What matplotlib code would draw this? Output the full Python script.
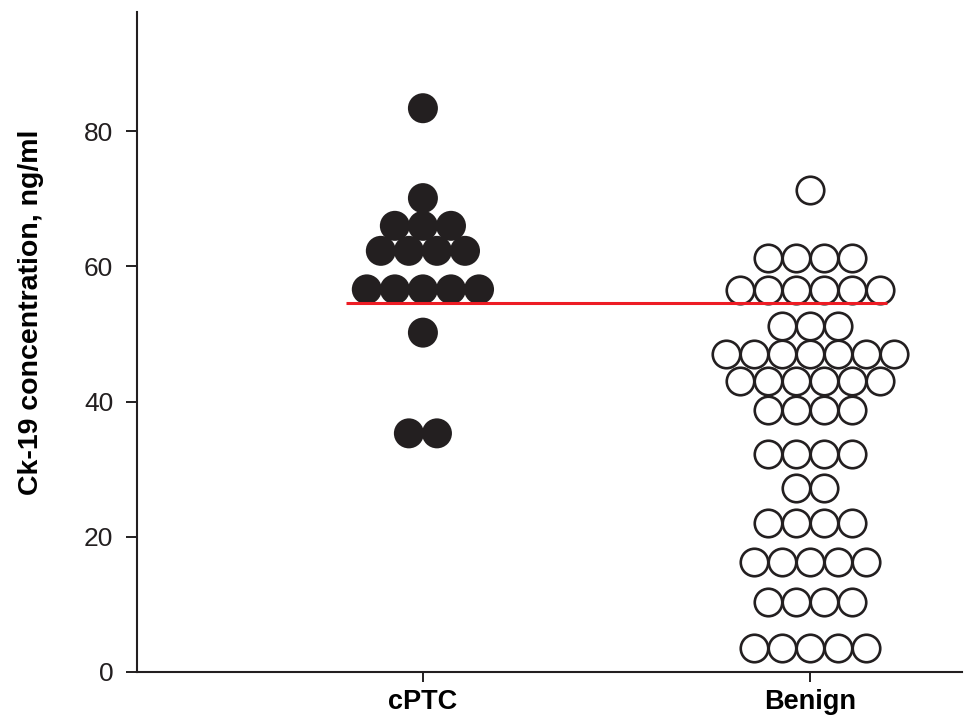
import numpy as np
import matplotlib
matplotlib.use("Agg")
import matplotlib.pyplot as plt

plt.rcParams['font.family'] = ['Liberation Sans', 'DejaVu Sans']

# values (ng/ml), one entry per dot
categories = ['cPTC', 'Benign']
cptc = [83.4, 70.1,
        66.0, 66.0, 66.0,
        62.3, 62.3, 62.3, 62.3,
        56.6, 56.6, 56.6, 56.6, 56.6,
        50.2,
        35.3, 35.3]
benign = [71.3,
          61.3, 61.3, 61.3, 61.3,
          56.5, 56.5, 56.5, 56.5, 56.5, 56.5,
          51.2, 51.2, 51.2,
          47.0, 47.0, 47.0, 47.0, 47.0, 47.0, 47.0,
          43.0, 43.0, 43.0, 43.0, 43.0, 43.0,
          38.7, 38.7, 38.7, 38.7,
          32.3, 32.3, 32.3, 32.3,
          27.2, 27.2,
          22.1, 22.1, 22.1, 22.1,
          16.3, 16.3, 16.3, 16.3, 16.3,
          10.3, 10.3, 10.3, 10.3,
          3.5, 3.5, 3.5, 3.5, 3.5]
cutoff = 54.6
yticks = [0, 20, 40, 60, 80]

dark = '#231f20'
spacing = 0.0725


def swarm(pos, vals):
    # spread equal values side by side, centred on the category
    xs, ys = [], []
    vals = np.array(vals)
    for v in np.unique(vals):
        n = np.sum(vals == v)
        off = (np.arange(n) - (n - 1) / 2) * spacing
        xs.extend(pos + off)
        ys.extend([v] * n)
    return np.array(xs), np.array(ys)


fig = plt.figure(figsize=(9.64, 7.19), dpi=100)
ax = fig.add_axes([0.142, 0.0654, 0.856, 0.9176])

x1, y1 = swarm(1, cptc)
x2, y2 = swarm(2, benign)
ax.scatter(x1, y1, s=21.6 ** 2, c=dark, edgecolors='none', zorder=3)
ax.scatter(x2, y2, s=19.8 ** 2, facecolors='white', edgecolors=dark,
           linewidths=1.9, zorder=3)
ax.hlines(cutoff, 0.80, 2.20, colors='#ed1c24', linewidth=2.2, zorder=4)

ax.set_xlim(0.261, 2.393)
ax.set_ylim(0, 97.6)
ax.set_xticks([1, 2])
ax.set_xticklabels(categories, fontsize=19.5, fontweight='bold')
ax.set_yticks(yticks)
ax.tick_params(axis='y', labelsize=19, length=8, width=1.4, color=dark,
               pad=9, labelcolor=dark)
ax.tick_params(axis='x', length=7, width=1.4, color=dark, pad=5,
               labelcolor='black')

for side in ['top', 'right']:
    ax.spines[side].set_visible(False)
for side in ['left', 'bottom']:
    ax.spines[side].set_linewidth(1.5)
    ax.spines[side].set_color(dark)

ax.set_ylabel('Ck-19 concentration, ng/ml', fontsize=20.5, fontweight='bold')
ax.yaxis.set_label_coords(-0.112, 0.545)

fig.savefig('out.png', dpi=100)
